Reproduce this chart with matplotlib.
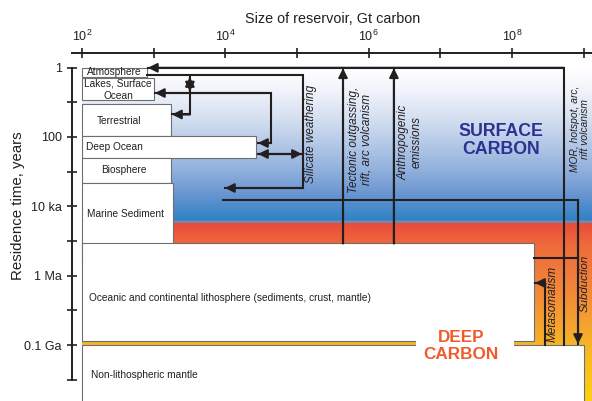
import numpy as np
import matplotlib
matplotlib.use("Agg")
import matplotlib.pyplot as plt
from matplotlib.patches import Rectangle
from matplotlib.colors import LinearSegmentedColormap
from matplotlib.ticker import NullLocator

plt.rcParams['font.family'] = ['Liberation Sans', 'DejaVu Sans']
plt.rcParams['mathtext.fontset'] = 'custom'
plt.rcParams['mathtext.rm'] = 'Liberation Sans'
plt.rcParams['mathtext.it'] = 'Liberation Sans:italic'

# reservoirs: size in Gt carbon, residence time range in years
reservoirs = ['Atmosphere', 'Lakes, Surface\nOcean', 'Terrestrial', 'Deep Ocean',
              'Biosphere', 'Marine Sediment',
              'Oceanic and continental lithosphere (sediments, crust, mantle)',
              'Non-lithospheric mantle']
size_gt = [818, 1020, 1725, 26500, 1725, 1875, 2.01e8, 1.01e9]
t_top = [1.0, 2.07, 11.5, 97, 400, 2090, 1.18e5, 9.94e7]
t_bottom = [1.94, 8.6, 97, 400, 2090, 3.77e5, 7.47e7, 1e10]
label_x = [286, 318, 328, 288, 385, 411, 125, 134]
label_y = [1.39, 4.38, 34.8, 195, 899, 16700, 4.31e6, 7.27e8]
label_ha = ['center'] * 6 + ['left', 'left']

# fluxes as paths (size, time), with arrow heads at start / end
fluxes = [
    ([5.27e8, 5.27e8, 830], [9.94e7, 1.02, 1.02], False, True),        # MOR
    ([818, 1.21e5, 1.21e5, 9860], [1.64, 1.64, 2970, 2970], False, True),  # silicate
    ([3200, 3200], [1.88, 4.92], True, True),
    ([3200, 3200, 1800], [5.43, 22.6, 22.6], False, True),
    ([28500, 42900, 42900, 1040], [150, 150, 5.43, 5.43], True, True),
    ([28500, 1.17e5], [311, 311], True, True),
    ([9270, 8.28e8, 8.28e8], [6580, 6580, 9.3e7], False, True),         # subduction
    ([4.37e5, 4.37e5], [1.18e5, 1.05], False, True),                    # tectonic
    ([2.24e6, 2.24e6], [1.18e5, 1.05], False, True),                    # anthropogenic
    ([2.87e8, 2.87e8, 2.08e8], [9.94e7, 1.62e6, 1.62e6], False, True),  # metasomatism
    ([2.01e8, 8.28e8], [3.19e5, 3.19e5], False, False),
]

flux_labels = ['Silicate weathering', 'Tectonic outgassing,\nrift, arc volcanism',
               'Anthropogenic\nemissions', 'MOR, hotspot, arc,\nrift volcanism',
               'Metasomatism', 'Subduction']
flux_lx = [1.56e5, 7.54e5, 3.76e6, 8.83e8, 3.65e8, 1.035e9]
flux_ly = [82.5, 119, 140, 59.2, 6.32e6, 1.68e6]
flux_fs = [8.4, 8.4, 8.4, 7.4, 8.5, 8.2]

ytick_vals = [1, 10, 100, 1e3, 1e4, 1e5, 1e6, 1e7, 1e8, 1e9]
ytick_labels = ['1', '', '100', '', '10 ka', '', '1 Ma', '', '0.1 Ga', '']
xtick_vals = [1e2, 1e3, 1e4, 1e5, 1e6, 1e7, 1e8, 1e9]
xtick_labels = ['$10^{2}$', '', '$10^{4}$', '', '$10^{6}$', '', '$10^{8}$', '']

# background gradient stops (residence time, colour)
grad_t = [1, 10**0.648, 10**1.225, 10**1.801, 10**2.378, 10**2.954, 10**3.53,
          10**3.963, 10**4.395, 10**4.438, 10**4.481, 10**5.115, 10**6.124,
          10**7.277, 10**7.997, 10**9.7]
grad_c = ['#ffffff', '#f0f3fa', '#dce5f3', '#c5d5ec', '#abc2e4', '#90b0dc', '#7099d2',
          '#4f8cca', '#2f82c4', '#5a9bd0', '#e94a3b', '#ee6a3a', '#f07f3a',
          '#f49e30', '#f7b426', '#fdd20c']

ink = '#231f20'

fig = plt.figure(figsize=(5.92, 4.01), dpi=100)
ax = fig.add_axes([72 / 592, 0, 520 / 592, 348 / 401])
ax.set_xscale('log')
ax.set_yscale('log')
ax.set_xlim(10**1.861, 10**9.113)
ax.set_ylim(10**9.611, 10**-0.418)

# gradient
lg = np.log10(grad_t)
cmap = LinearSegmentedColormap.from_list('carbon', list(zip((lg - lg[0]) / (lg[-1] - lg[0]), grad_c)))
yedges = np.logspace(lg[0], lg[-1], 700)
ycent = np.sqrt(yedges[:-1] * yedges[1:])
C = np.log10(ycent)[:, None]
ax.pcolormesh([100, 1e10], yedges, C, cmap=cmap, vmin=lg[0], vmax=lg[-1],
              shading='flat', antialiased=False, zorder=0)

# reservoir boxes
for i, name in enumerate(reservoirs):
    ax.add_patch(Rectangle((100, t_top[i]), size_gt[i] - 100, t_bottom[i] - t_top[i],
                           facecolor='white', edgecolor='#6d6e71', lw=0.8, zorder=2))
    ax.text(label_x[i], label_y[i], name, ha=label_ha[i], va='center', fontsize=7.3,
            color=ink, linespacing=1.25, zorder=5)

# gap in the gold band behind DEEP CARBON
ax.add_patch(Rectangle((4.55e6, 6.24e7), 1.06e8 - 4.55e6, 1.21e8 - 6.24e7,
                       facecolor='white', edgecolor='none', zorder=2.5))

# fluxes
astyle = dict(color=ink, lw=1.5, shrinkA=0, shrinkB=0, mutation_scale=9)
for xs, ts, head0, head1 in fluxes:
    ax.plot(xs, ts, color=ink, lw=1.5, solid_joinstyle='miter', zorder=3)
    if head1:
        ax.annotate('', xy=(xs[-1], ts[-1]), xytext=(xs[-2], ts[-2]),
                    arrowprops=dict(arrowstyle='-|>,head_length=0.6,head_width=0.3', **astyle),
                    zorder=3)
    if head0:
        ax.annotate('', xy=(xs[0], ts[0]), xytext=(xs[1], ts[1]),
                    arrowprops=dict(arrowstyle='-|>,head_length=0.6,head_width=0.3', **astyle),
                    zorder=3)

for lab, x, y, fs in zip(flux_labels, flux_lx, flux_ly, flux_fs):
    ax.text(x, y, lab, rotation=90, ha='center', va='center', fontsize=fs,
            style='italic', color=ink, linespacing=1.1, zorder=5)

ax.text(6.98e7, 127, 'SURFACE\nCARBON', ha='center', va='center', fontsize=12.8,
        fontweight='bold', color='#2e3192', linespacing=1.1, zorder=5)
ax.text(1.93e7, 1.06e8, 'DEEP\nCARBON', ha='center', va='center', fontsize=12.3,
        fontweight='bold', color='#f15a2b', linespacing=1.1, zorder=5)

# axes
ax.set_facecolor('none')
for s in ['bottom', 'right']:
    ax.spines[s].set_visible(False)
ax.spines['left'].set_bounds(1, 1e9)
for s in ['top', 'left']:
    ax.spines[s].set_linewidth(1.4)
    ax.spines[s].set_color(ink)
ax.xaxis.set_ticks_position('top')
ax.set_xticks(xtick_vals)
ax.set_xticklabels(xtick_labels)
ax.set_yticks(ytick_vals)
ax.set_yticklabels(ytick_labels)
ax.xaxis.set_minor_locator(NullLocator())
ax.yaxis.set_minor_locator(NullLocator())
ax.tick_params(axis='both', direction='inout', length=7.6, width=1.2, color=ink,
               labelsize=9, labelcolor=ink)
ax.tick_params(axis='x', pad=2.5)
ax.tick_params(axis='y', pad=3.5)

fig.text(333 / 592, 1 - 19 / 401, 'Size of reservoir, Gt carbon', ha='center', va='center',
         fontsize=10.4, color=ink)
fig.text(18 / 592, 1 - 206 / 401, 'Residence time, years', rotation=90, ha='center',
         va='center', fontsize=10.8, color=ink)

fig.savefig('out.png', dpi=100)
